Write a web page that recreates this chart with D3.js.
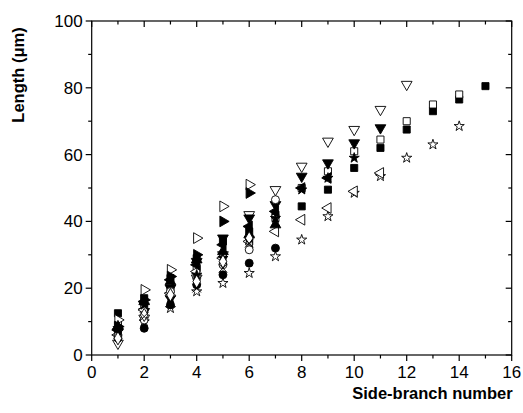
<!DOCTYPE html>
<html>
<head>
<meta charset="utf-8">
<script src="https://cdn.jsdelivr.net/npm/d3@7"></script>
<style>
  body { margin: 0; background: #fff; }
  svg { display: block; font-family: "Liberation Sans", Arial, sans-serif; }
  .tick-label { font-size: 17px; }
  .title { font-size: 16.5px; font-weight: bold; }
</style>
</head>
<body>
<div id="chart"></div>
<script>
// lengths (um) per side branch, branch index starts at 1
const squareFilled = [12.5, 17, 23, 29, 34, 37, 42, 44.5, 49.5, 56, 62, 67.5, 73, 76.5, 80.5];
const squareOpen = [9, 14, 19.5, 26, 30, 34, 41, 50, 55, 61, 64.5, 70, 75, 78];
const triDownOpen = [3.5, 11, 17, 23, 30, 42, 49.5, 56.5, 64, 67.5, 73.5, 81];
const triDownFilled = [7, 13, 20, 28, 35, 41, 45, 53.5, 57.5, 63.5, 68];
const starOpen = [7, 10, 14, 19, 21.5, 24.5, 29.5, 34.5, 41.5, 48.5, 53.5, 59, 63, 68.5];
const triLeftOpen = [6, 13.5, 18.5, 25, 29, 34, 37, 40.5, 44, 49, 54.5];
const triRightOpen = [10.5, 19.5, 25.5, 35, 44.5, 51];
const triRightFilled = [8.5, 16.5, 23.5, 30, 40, 48.5];
const circleFilled = [5, 8, 15, 21, 24, 27.5, 32];
const circleOpen = [6, 10.5, 19, 23, 27, 31.5, 46.5];
const starFilled = [8, 15, 17, 24, 29, 35, 41, 49.5, 53, 59];
const triLeftFilled = [7.5, 16, 22.5, 27, 33, 38.5, 43, 50, 53];
const triUpFilled = [8.5, 16, 22, 28.5, 31, 36, 39];
const diamondOpen = [5, 12, 18, 22, 28, 35];
const crossFilled = [7, 11.5, 16, 20, 26, 33.5, 40];

const xTicks = [0, 2, 4, 6, 8, 10, 12, 14, 16];
const yTicks = [0, 20, 40, 60, 80, 100];

const series = [
  { values: squareFilled, shape: d3.symbolSquare, rot: 0, fill: true },
  { values: squareOpen, shape: d3.symbolSquare, rot: 0, fill: false },
  { values: triDownOpen, shape: d3.symbolTriangle, rot: 180, fill: false },
  { values: triDownFilled, shape: d3.symbolTriangle, rot: 180, fill: true },
  { values: starOpen, shape: d3.symbolStar, rot: 0, fill: false },
  { values: triLeftOpen, shape: d3.symbolTriangle, rot: -90, fill: false },
  { values: triRightOpen, shape: d3.symbolTriangle, rot: 90, fill: false },
  { values: triRightFilled, shape: d3.symbolTriangle, rot: 90, fill: true },
  { values: circleFilled, shape: d3.symbolCircle, rot: 0, fill: true },
  { values: circleOpen, shape: d3.symbolCircle, rot: 0, fill: false },
  { values: starFilled, shape: d3.symbolStar, rot: 0, fill: true },
  { values: triLeftFilled, shape: d3.symbolTriangle, rot: -90, fill: true },
  { values: triUpFilled, shape: d3.symbolTriangle, rot: 0, fill: true },
  { values: diamondOpen, shape: d3.symbolDiamond, rot: 0, fill: false },
  { values: crossFilled, shape: d3.symbolX, rot: 0, fill: true }
];

const width = 523;
const height = 413;
const margin = { top: 21, right: 11.3, bottom: 58, left: 91.7 };
const innerW = width - margin.left - margin.right;
const innerH = height - margin.top - margin.bottom;

const svg = d3.select("#chart").append("svg")
  .attr("width", width)
  .attr("height", height);

const g = svg.append("g")
  .attr("transform", `translate(${margin.left},${margin.top})`);

const x = d3.scaleLinear().domain([0, 16]).range([0, innerW]);
const y = d3.scaleLinear().domain([0, 100]).range([innerH, 0]);

const minorX = d3.range(1, 16, 2);
const minorY = d3.range(10, 100, 20);

// frame
g.append("rect")
  .attr("width", innerW)
  .attr("height", innerH)
  .attr("fill", "none")
  .attr("stroke", "#000")
  .attr("stroke-width", 1.2);

const tickG = g.append("g").attr("stroke", "#000").attr("stroke-width", 1.2);

// bottom (outward) + top (inward)
xTicks.forEach((t) => {
  tickG.append("line").attr("x1", x(t)).attr("x2", x(t)).attr("y1", innerH).attr("y2", innerH + 6);
  tickG.append("line").attr("x1", x(t)).attr("x2", x(t)).attr("y1", 0).attr("y2", 6);
});
minorX.forEach((t) => {
  tickG.append("line").attr("x1", x(t)).attr("x2", x(t)).attr("y1", innerH).attr("y2", innerH + 3.5);
  tickG.append("line").attr("x1", x(t)).attr("x2", x(t)).attr("y1", 0).attr("y2", 3.5);
});
// left (outward) + right (inward)
yTicks.forEach((t) => {
  tickG.append("line").attr("x1", -6).attr("x2", 0).attr("y1", y(t)).attr("y2", y(t));
  tickG.append("line").attr("x1", innerW - 6).attr("x2", innerW).attr("y1", y(t)).attr("y2", y(t));
});
minorY.forEach((t) => {
  tickG.append("line").attr("x1", -3.5).attr("x2", 0).attr("y1", y(t)).attr("y2", y(t));
  tickG.append("line").attr("x1", innerW - 3.5).attr("x2", innerW).attr("y1", y(t)).attr("y2", y(t));
});

g.selectAll(".xl").data(xTicks).enter().append("text")
  .attr("class", "tick-label")
  .attr("x", (d) => x(d))
  .attr("y", innerH + 23)
  .attr("text-anchor", "middle")
  .text((d) => d);

g.selectAll(".yl").data(yTicks).enter().append("text")
  .attr("class", "tick-label")
  .attr("x", -9)
  .attr("y", (d) => y(d) + 6)
  .attr("text-anchor", "end")
  .text((d) => d);

// markers
series.forEach((s) => {
  const sym = d3.symbol().type(s.shape).size(s.shape === d3.symbolStar ? 32 : 50);
  g.append("g").selectAll("path")
    .data(s.values.map((v, i) => ({ n: i + 1, v })))
    .enter().append("path")
    .attr("d", sym)
    .attr("transform", (d) => `translate(${x(d.n)},${y(d.v)}) rotate(${s.rot})`)
    .attr("fill", s.fill ? "#000" : "#fff")
    .attr("stroke", "#000")
    .attr("stroke-width", 0.9);
});

svg.append("text")
  .attr("class", "title")
  .attr("x", margin.left + innerW + 1)
  .attr("y", 399)
  .attr("text-anchor", "end")
  .text("Side-branch number");

svg.append("text")
  .attr("class", "title")
  .attr("transform", "translate(24,75) rotate(-90)")
  .attr("text-anchor", "middle")
  .text("Length (μm)");
</script>
</body>
</html>
